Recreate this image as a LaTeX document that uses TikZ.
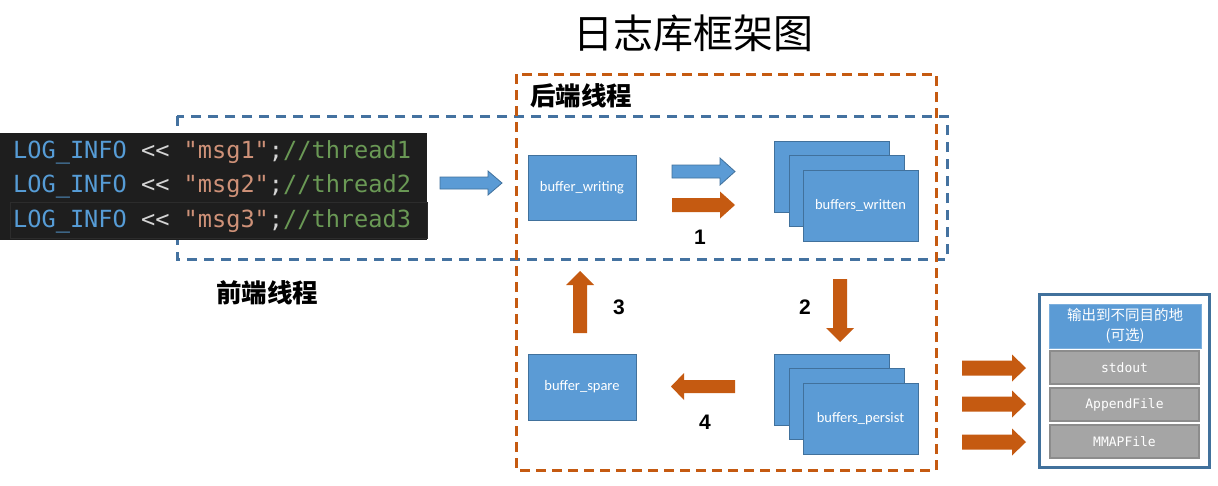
\documentclass[tikz,border=0pt]{standalone}
\usepackage{fontspec}
\setmainfont{Carlito}
\newfontfamily\cjk{Noto Sans CJK SC}
\newfontfamily\codefont{DejaVu Sans Mono}
\newfontfamily\monofont{DejaVu Sans Mono}
\newfontfamily\numfont{Liberation Sans}
\definecolor{bfill}{HTML}{5B9BD5}
\definecolor{bline}{HTML}{41719C}
\definecolor{dashblue}{HTML}{4472A0}
\definecolor{ora}{HTML}{C55A11}
\definecolor{gfill}{HTML}{A5A5A5}
\definecolor{gline}{HTML}{8C8C8C}
\definecolor{codebg}{HTML}{1E1E1E}
\definecolor{codehl}{HTML}{2C2C2C}
\definecolor{cblue}{HTML}{569CD6}
\definecolor{cstr}{HTML}{CE9178}
\definecolor{cgreen}{HTML}{6A9955}
\definecolor{cop}{HTML}{D4D4D4}
% horizontal block arrow: x-start, x-tip, x-headbase, y, shaft half, head half
\newcommand\myblockH[7]{\path[#7] ({#1},{#4-#5}) -- ({#3},{#4-#5}) -- ({#3},{#4-#6}) -- ({#2},{#4}) -- ({#3},{#4+#6}) -- ({#3},{#4+#5}) -- ({#1},{#4+#5}) -- cycle;}
% vertical block arrow: y-start, y-tip, y-headbase, x, shaft half, head half
\newcommand\myblockV[7]{\path[#7] ({#4-#5},{#1}) -- ({#4-#5},{#3}) -- ({#4-#6},{#3}) -- ({#4},{#2}) -- ({#4+#6},{#3}) -- ({#4+#5},{#3}) -- ({#4+#5},{#1}) -- cycle;}
\tikzset{
  bufbox/.style={draw=bline, line width=1pt, fill=bfill, text=white, minimum width=108pt, minimum height=65pt, inner sep=0pt, font=\fontsize{14.5}{16}\selectfont},
  stackbox/.style={draw=bline, line width=1pt, fill=bfill, text=white, minimum width=115pt, minimum height=71pt, inner sep=0pt, font=\fontsize{14.5}{16}\selectfont},
  outbox/.style={draw=gline, line width=1.5pt, fill=gfill, text=white, minimum width=149pt, minimum height=33pt, inner sep=0pt, font=\monofont\fontsize{13}{15}\selectfont},
  orarrow/.style={fill=ora},
  bluearrow/.style={fill=bfill, draw=bline, line width=0.8pt},
  numlabel/.style={font=\numfont\bfseries\fontsize{21}{24}\selectfont, inner sep=0pt},
  cjklabel/.style={font=\cjk\bfseries\fontsize{25.5}{28}\selectfont, inner sep=0pt},
  codeline/.style={font=\codefont\fontsize{23.6}{28}\selectfont, inner sep=0pt, anchor=base west},
}
\begin{document}
\begin{tikzpicture}[x=1pt,y=-1pt]
\useasboundingbox[fill=white] (0,0) rectangle (1218,485);
% title
\node[font=\cjk\fontsize{40}{44}\selectfont, inner sep=0pt] (title) at (693,33) {日志库框架图};
% dashed frames
\draw[dashblue, line width=3pt, dash pattern=on 10pt off 7pt] (177,116) rectangle (947,259);
\draw[ora, line width=3pt, dash pattern=on 10pt off 6pt] (516,74) rectangle (936,470);
\node[cjklabel, anchor=west] (backend) at (530,96) {后端线程};
\node[cjklabel, anchor=west] (frontend) at (216,293) {前端线程};
% code block
\fill[codebg] (0,133) rectangle (427,240);
\draw[codehl, line width=1pt] (10,202) rectangle (427,238);
\node[codeline] (c1) at (13,158) {\textcolor{cblue}{LOG\_INFO} \textcolor{cop}{<<} \textcolor{cstr}{"msg1"}\textcolor{cop}{;}\textcolor{cgreen}{//thread1}};
\node[codeline] (c2) at (13,192) {\textcolor{cblue}{LOG\_INFO} \textcolor{cop}{<<} \textcolor{cstr}{"msg2"}\textcolor{cop}{;}\textcolor{cgreen}{//thread2}};
\node[codeline] (c3) at (13,227) {\textcolor{cblue}{LOG\_INFO} \textcolor{cop}{<<} \textcolor{cstr}{"msg3"}\textcolor{cop}{;}\textcolor{cgreen}{//thread3}};
% arrow from code
\myblockH{440}{502}{488}{183}{6}{12}{bluearrow}
% buffers
\node[bufbox] (writing) at (582,187.5) {buffer\_writing};
\node[bufbox, minimum height=66pt] (spare) at (582,387) {buffer\_spare};
\node[stackbox] (w1) at (831.5,176.5) {};
\node[stackbox] (w2) at (846.5,191) {};
\node[stackbox] (w3) at (860.5,205.5) {buffers\_written};
\node[stackbox] (p1) at (831.5,389.5) {};
\node[stackbox] (p2) at (846.5,404) {};
\node[stackbox] (p3) at (860.5,419) {buffers\_persist};
% step arrows
\myblockH{672}{735}{720}{171.5}{6.5}{13.5}{bluearrow}
\myblockH{672}{735}{720}{205}{7}{13.5}{orarrow}
\myblockV{279}{342}{328}{840}{7}{14}{orarrow}
\myblockV{333}{271}{285}{580}{7}{14}{orarrow}
\myblockH{735}{671}{684}{386.5}{6.5}{13.5}{orarrow}
\node[numlabel] (n1) at (700,237) {1};
\node[numlabel] (n2) at (805,307) {2};
\node[numlabel] (n3) at (619,307) {3};
\node[numlabel] (n4) at (705,422) {4};
% output panel
\node[draw=bline, line width=3pt, fill=white, minimum width=170pt, minimum height=173pt, inner sep=0pt] (panel) at (1124,380.5) {};
\node[fill=bfill, draw=bfill!80!white, line width=1pt, minimum width=152pt, minimum height=44pt, inner sep=0pt, text=white, align=center, font=\cjk\fontsize{14.5}{20}\selectfont] (head) at (1125,326) {输出到不同目的地\\(可选)};
\node[outbox] (o1) at (1124.5,367.5) {stdout};
\node[outbox] (o2) at (1124.5,404.5) {AppendFile};
\node[outbox] (o3) at (1124.5,441.5) {MMAPFile};
\myblockH{962}{1026}{1012}{368}{7.5}{13.5}{orarrow}
\myblockH{962}{1026}{1012}{404}{7.5}{13.5}{orarrow}
\myblockH{962}{1026}{1012}{442}{7.5}{13.5}{orarrow}
\end{tikzpicture}
\end{document}
